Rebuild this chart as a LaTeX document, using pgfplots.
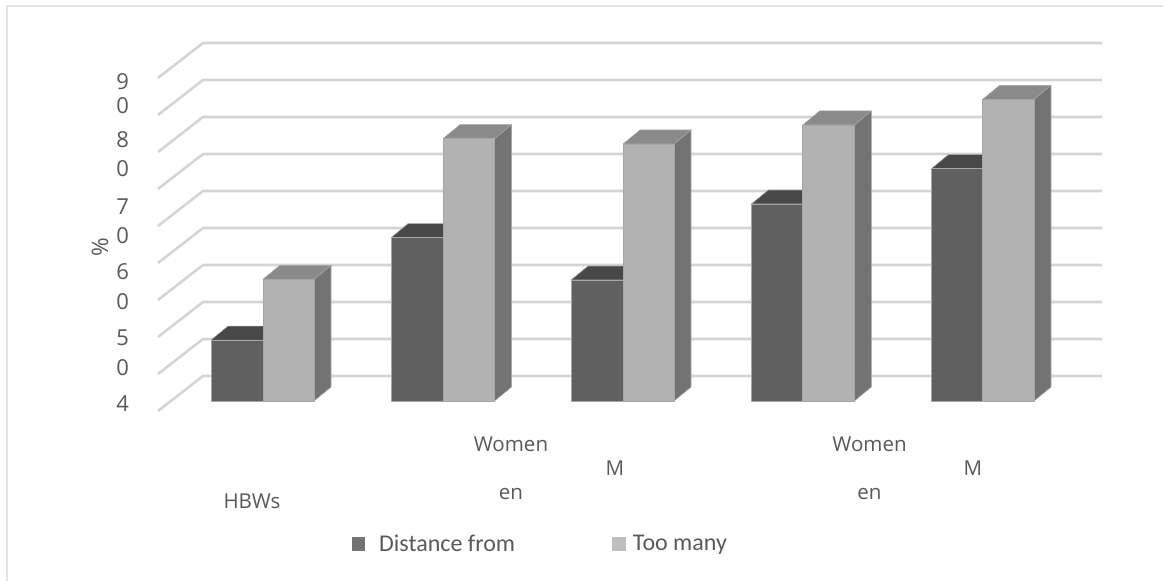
\documentclass[border=0pt]{standalone}
\usepackage{fontspec}
\setmainfont{Open Sans}
\newfontfamily\carlito{Carlito}
\usepackage{pgfplots}
\pgfplotsset{compat=1.18}
\definecolor{txt}{HTML}{595959}
\definecolor{gridc}{HTML}{D4D4D4}
\definecolor{darkF}{HTML}{606060}
\definecolor{darkT}{HTML}{484848}
\definecolor{darkS}{HTML}{555555}
\definecolor{lightF}{HTML}{B2B2B2}
\definecolor{lightT}{HTML}{8A8A8A}
\definecolor{lightS}{HTML}{737373}
\definecolor{edgec}{HTML}{A6A6A6}
% #1 x left, #2 x right, #3 value, #4 front, #5 top, #6 side
\newcommand\barThreeD[6]{%
  \pgfmathsetmacro\xa{#1+17}\pgfmathsetmacro\xb{#2+17}%
  \pgfmathsetmacro\tp{#3+1.892}%
  \addplot[forget plot,fill=#6,draw=edgec,line width=0.4pt] coordinates {(#2,40) (\xb,41.892) (\xb,\tp) (#2,#3) (#2,40)};
  \addplot[forget plot,fill=#5,draw=edgec,line width=0.4pt] coordinates {(#1,#3) (\xa,\tp) (\xb,\tp) (#2,#3) (#1,#3)};
  \addplot[forget plot,fill=#4,draw=edgec,line width=0.4pt] coordinates {(#1,40) (#1,#3) (#2,#3) (#2,40) (#1,40)};
}
\newcommand\gridl[2]{\addplot[forget plot,gridc,line width=1.9pt] coordinates {(158,#1) (203,#2) (1102,#2)};}
% text placed by pixel position from the top left
\newcommand\tx[4][center]{\node[anchor=#1,inner sep=0pt,text=txt,font=\fontsize{15.4}{18}\selectfont] at (axis cs:#2,{94.189-#3/7.4}) {#4};}
\newcommand\dg[2]{\node[inner sep=0pt,text=txt,font=\fontsize{16.5}{18}\selectfont] at (axis cs:122.7,{94.189-#1/7.4}) {#2};}
\begin{document}
\begin{tikzpicture}
\begin{axis}[
  name=a,
  scale only axis,width=872.25pt,height=435.75pt,
  xmin=0,xmax=1163,ymin=15.676,ymax=94.189,
  hide axis,clip=false,
  legend style={draw=none,fill=none,legend columns=2,at={(axis cs:352,{94.189-544/7.4})},anchor=west,
    inner sep=0pt,outer sep=0pt,
    font=\carlito\fontsize{18}{20}\selectfont\color{txt},
    /tikz/column 1/.style={column sep=9pt},
    /tikz/column 2/.style={column sep=71pt},
    /tikz/column 3/.style={column sep=4pt}},
]
% chart frame
\addplot[forget plot,draw=white!89!black,line width=1.5pt] coordinates {(7,15.676) (7,93.378) (1163,93.378)};
% gridlines: value at the open front end, value on the back wall
\gridl{38.65}{43.38}\gridl{43.65}{48.38}\gridl{48.65}{53.38}\gridl{53.65}{58.38}\gridl{58.65}{63.38}
\gridl{63.65}{68.38}\gridl{68.65}{73.38}\gridl{73.65}{78.38}\gridl{78.65}{83.38}\gridl{83.65}{88.38}
% bars: x left, x right, value
\barThreeD{211}{263}{48.24}{darkF}{darkT}{darkS}
\barThreeD{263}{314}{56.45}{lightF}{lightT}{lightS}
\barThreeD{391}{443}{62.07}{darkF}{darkT}{darkS}
\barThreeD{443}{494.5}{75.45}{lightF}{lightT}{lightS}
\barThreeD{571}{623}{56.35}{darkF}{darkT}{darkS}
\barThreeD{623}{674}{74.73}{lightF}{lightT}{lightS}
\barThreeD{751.3}{802.7}{66.62}{darkF}{darkT}{darkS}
\barThreeD{802.7}{854.3}{77.30}{lightF}{lightT}{lightS}
\barThreeD{931.3}{982.7}{71.39}{darkF}{darkT}{darkS}
\barThreeD{982.7}{1034}{80.77}{lightF}{lightT}{lightS}
% legend
\addlegendimage{only marks,mark=square*,mark size=4.7pt,color=white!45!black}
\addlegendentry{Distance from}
\addlegendimage{only marks,mark=square*,mark size=4.7pt,color=white!75!black}
\addlegendentry{Too many}
% y tick labels, wrapped as in the original
\dg{82}{9}\dg{106}{0}\dg{140}{8}\dg{169}{0}
\dg{207}{7}\dg{236}{0}\dg{272}{6}\dg{302}{0}
\dg{338}{5}\dg{368}{0}\dg{404}{4}
\node[rotate=90,inner sep=0pt,text=txt,font=\fontsize{17}{18}\selectfont] at (axis cs:100,{94.189-247/7.4}) {\%};
% category labels
\tx[base]{252}{508}{HBWs}
\tx[base]{511}{451}{Women}\tx[base]{511}{499}{en}\tx[base]{615}{475}{M}
\tx[base]{869.5}{451}{Women}\tx[base]{869.5}{499}{en}\tx[base]{973}{475}{M}
\end{axis}
\pgfresetboundingbox
\path[use as bounding box] (a.south west) rectangle (a.north east);
\end{tikzpicture}
\end{document}
